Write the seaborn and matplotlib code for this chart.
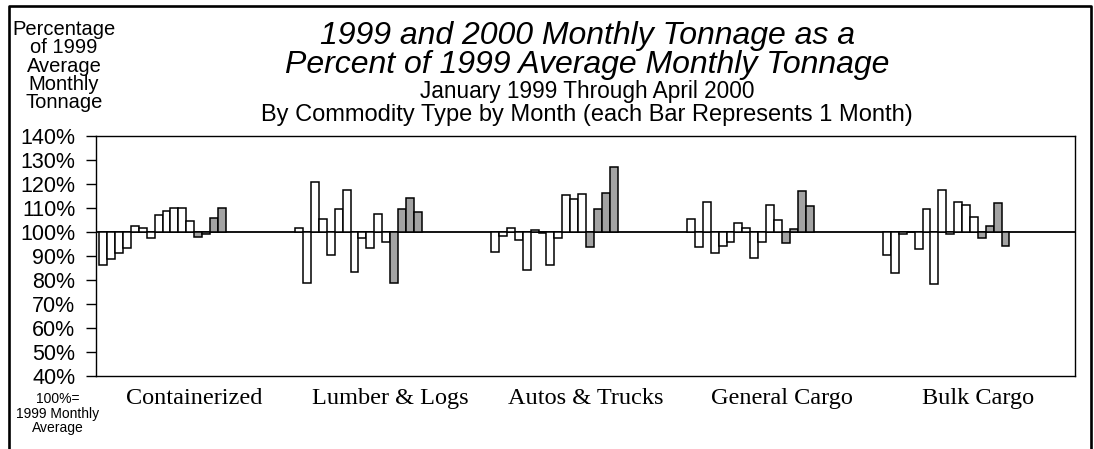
import numpy as np
import pandas as pd
import seaborn as sns
import matplotlib.pyplot as plt
import matplotlib.transforms as mtransforms
from matplotlib.lines import Line2D
from matplotlib.ticker import FuncFormatter

# --- data: percent of 1999 average monthly tonnage, Jan 1999 .. Apr 2000 ---
commodities = ['Containerized', 'Lumber & Logs', 'Autos & Trucks', 'General Cargo', 'Bulk Cargo']
months = ['Jan 99', 'Feb 99', 'Mar 99', 'Apr 99', 'May 99', 'Jun 99', 'Jul 99', 'Aug 99',
          'Sep 99', 'Oct 99', 'Nov 99', 'Dec 99', 'Jan 00', 'Feb 00', 'Mar 00', 'Apr 00']
years = ['1999'] * 12 + ['2000'] * 4

containerized = [86.4, 88.7, 91.1, 93.3, 102.5, 101.5, 97.6, 107.2, 108.9, 109.9, 110.0, 104.7,
                 97.8, 99.3, 105.7, 110.0]
lumber_logs = [101.7, 78.9, 120.8, 105.6, 90.3, 109.7, 117.4, 83.2, 97.5, 93.5, 107.6, 96.0,
               78.6, 109.7, 114.3, 108.3]
autos_trucks = [91.7, 98.3, 101.8, 96.5, 84.2, 100.7, 99.4, 86.1, 97.4, 115.4, 113.9, 115.8,
                93.7, 109.7, 116.3, 127.2]
general_cargo = [105.4, 93.6, 112.5, 91.4, 94.0, 96.0, 103.9, 101.5, 89.3, 96.0, 111.1, 105.0,
                 95.3, 101.3, 116.9, 110.7]
bulk_cargo = [90.6, 83.1, 99.2, 100.0, 92.9, 109.6, 78.2, 117.5, 99.2, 112.5, 111.3, 106.1,
              97.5, 102.5, 111.9, 94.3]

series = [containerized, lumber_logs, autos_trucks, general_cargo, bulk_cargo]
group_step = 24.8  # distance between group starts, in bar widths

rows = []
for g, vals in enumerate(series):
    for i, v in enumerate(vals):
        rows.append({'pos': round(g * group_step + i, 2), 'pct': v,
                     'change': v - 100, 'year': years[i], 'month': months[i]})
df = pd.DataFrame(rows)

W, H = 1094, 449
fig = plt.figure(figsize=(W / 100, H / 100), dpi=100)
ax = fig.add_axes([96 / W, 1 - 376 / H, (1075 - 96) / W, 240 / H])

sns.barplot(data=df, x='pos', y='change', hue='year', native_scale=True, dodge=False,
            palette={'1999': 'white', '2000': '#a3a3a3'}, width=1.0, bottom=100,
            edgecolor='black', linewidth=1.1, errorbar=None, legend=False, ax=ax)

ax.axhline(100, color='black', lw=1.3, zorder=0.5)
ax.set_ylim(40, 140)
ax.set_xlim(-0.92, 123.0)
ax.set_yticks(np.arange(40, 141, 10))
ax.yaxis.set_major_formatter(FuncFormatter(lambda v, p: f'{v:.0f}%'))
ax.set_xticks([])
ax.set_xlabel('')
ax.set_ylabel('')
ax.tick_params(axis='y', direction='out', length=7, width=1, pad=8, labelsize=15.5)
for lab in ax.get_yticklabels():
    lab.set_family(['Liberation Sans', 'DejaVu Sans'])
for s in ax.spines.values():
    s.set_linewidth(1.0)
    s.set_color('black')

# category labels under each group
trans = mtransforms.blended_transform_factory(ax.transData, fig.transFigure)
for g, name in enumerate(commodities):
    ax.text(g * group_step + 7.5 + 4.0, 1 - 404 / H, name, ha='center', va='baseline',
            transform=trans, fontsize=17.5, family=['Liberation Serif', 'DejaVu Serif'])

sans = ['Liberation Sans', 'DejaVu Sans']
cx = 587 / W
fig.text(cx, 1 - 44 / H, '1999 and 2000 Monthly Tonnage as a', ha='center', va='baseline',
         fontsize=23, style='italic', family=sans)
fig.text(cx, 1 - 73 / H, 'Percent of 1999 Average Monthly Tonnage', ha='center', va='baseline',
         fontsize=23, style='italic', family=sans)
fig.text(cx, 1 - 98 / H, 'January 1999 Through April 2000', ha='center', va='baseline',
         fontsize=16.3, family=sans)
fig.text(cx, 1 - 121 / H, 'By Commodity Type by Month (each Bar Represents 1 Month)',
         ha='center', va='baseline', fontsize=17, family=sans)

fig.text(64 / W, 1 - 20 / H, 'Percentage\nof 1999\nAverage\nMonthly\nTonnage', ha='center',
         va='top', fontsize=14.5, linespacing=0.95, family=sans)
fig.text(58 / W, 1 - 392 / H, '100%=\n1999 Monthly\nAverage', ha='center', va='top',
         fontsize=10, linespacing=1.05, family=sans)

# outer frame (open at the bottom)
x0, x1, yt = 8.5 / W, 1090.5 / W, 1 - 6 / H
fig.add_artist(Line2D([x0, x0, x1, x1], [-0.05, yt, yt, -0.05], transform=fig.transFigure,
                      color='black', lw=1.9))

fig.savefig('out.png', dpi=100)
